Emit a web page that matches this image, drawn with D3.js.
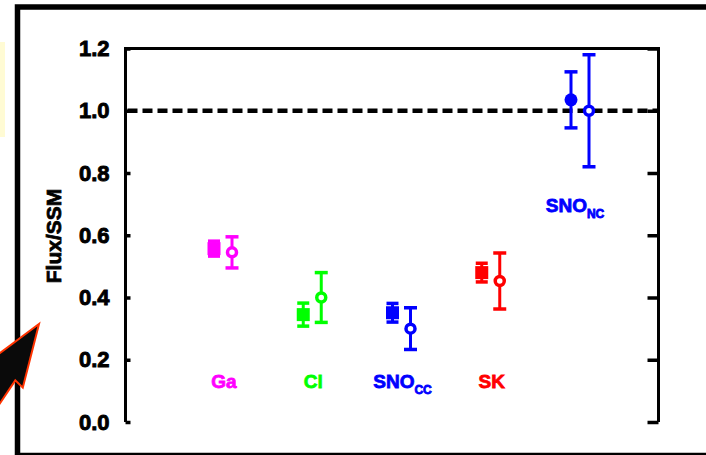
<!DOCTYPE html>
<html>
<head>
<meta charset="utf-8">
<script src="https://cdn.jsdelivr.net/npm/d3@7"></script>
<style>
  html, body { margin: 0; padding: 0; background: #fff; }
  svg { display: block; }
  text { font-family: "Liberation Sans", Arial, sans-serif; font-weight: bold; }
</style>
</head>
<body>
<svg id="chart" width="706" height="455"></svg>
<script>
// Solar neutrino experiments: measured flux and prediction, relative to the SSM
const categories = ["Ga", "Cl", "SNO_CC", "SK", "SNO_NC"];
const labelMain = ["Ga", "Cl", "SNO", "SK", "SNO"];
const labelSub = ["", "", "CC", "", "NC"];
const colors = ["#ff00ff", "#00ff00", "#0000ff", "#ff0000", "#0000ff"];

// filled markers
const filledValues = [0.557, 0.345, 0.351, 0.480, 1.035];
const filledErrors = [0.024, 0.037, 0.030, 0.030, 0.090];
const filledShapes = ["square", "square", "square", "square", "circle"];

// open markers
const openValues = [0.545, 0.400, 0.300, 0.453, 1.000];
const openErrors = [0.050, 0.080, 0.067, 0.090, 0.180];

const yTicks = [0.0, 0.2, 0.4, 0.6, 0.8, 1.0, 1.2];
const referenceLevel = 1.0;

const svg = d3.select("#chart");

// page decoration: outer frame, side note strip, pointer arrow
svg.append("rect")
  .attr("x", 0).attr("y", 42).attr("width", 5).attr("height", 95)
  .attr("fill", "#fffbd4");
svg.append("rect")
  .attr("x", 17.5).attr("y", 7).attr("width", 720).attr("height", 448.5)
  .attr("fill", "none").attr("stroke", "#000").attr("stroke-width", 5.5);

const plotLeft = 125.5, plotRight = 658.5, plotTop = 48.5, plotBottom = 422;

const y = d3.scaleLinear().domain([0, 1.2]).range([plotBottom, plotTop]);
const x = d3.scalePoint().domain(categories).range([223, 580]);
const offset = 9;

// plot frame (left, top, right)
svg.append("path")
  .attr("d", `M${plotLeft},${plotBottom}V${plotTop}H${plotRight}V${plotBottom}`)
  .attr("fill", "none").attr("stroke", "#000").attr("stroke-width", 3);

// left axis: inward ticks and labels
const leftAxis = d3.axisLeft(y).tickValues(yTicks).tickFormat(d3.format(".1f"))
  .tickSizeInner(-5).tickSizeOuter(0).tickPadding(16);
const gl = svg.append("g").attr("transform", `translate(${plotLeft},0)`).call(leftAxis);
gl.select(".domain").remove();
gl.selectAll(".tick line").attr("stroke", "#000").attr("stroke-width", 3.5);
gl.selectAll(".tick text")
  .attr("font-size", 22).attr("font-family", "Liberation Sans, Arial, sans-serif")
  .attr("font-weight", "bold").attr("fill", "#000")
  .attr("stroke", "#000").attr("stroke-width", 0.9);

// right axis: inward ticks
const rightAxis = d3.axisRight(y).tickValues(yTicks).tickFormat("")
  .tickSizeInner(-11).tickSizeOuter(0);
const gr = svg.append("g").attr("transform", `translate(${plotRight},0)`).call(rightAxis);
gr.select(".domain").remove();
gr.selectAll(".tick line").attr("stroke", "#000").attr("stroke-width", 3.5);

// reference line at the SSM prediction
svg.append("line")
  .attr("x1", plotLeft + 2).attr("x2", plotRight)
  .attr("y1", y(referenceLevel)).attr("y2", y(referenceLevel))
  .attr("stroke", "#000").attr("stroke-width", 4.5).attr("stroke-dasharray", "10,5");

// axis title
svg.append("text")
  .attr("transform", `translate(61,236) rotate(-90)`)
  .attr("text-anchor", "middle")
  .attr("font-size", 21)
  .attr("fill", "#000").attr("stroke", "#000").attr("stroke-width", 0.8)
  .text("Flux/SSM");

function errorBar(g, cx, v, e, color, capW) {
  g.append("line")
    .attr("x1", cx).attr("x2", cx).attr("y1", y(v + e)).attr("y2", y(v - e))
    .attr("stroke", color).attr("stroke-width", 3);
  [v + e, v - e].forEach(w => {
    g.append("line")
      .attr("x1", cx - capW / 2).attr("x2", cx + capW / 2)
      .attr("y1", y(w)).attr("y2", y(w))
      .attr("stroke", color).attr("stroke-width", 3.5);
  });
}

const marks = svg.append("g");
categories.forEach((c, i) => {
  const col = colors[i];
  // filled marker with its error bar
  const fx = x(c) - offset;
  errorBar(marks, fx, filledValues[i], filledErrors[i], col, filledShapes[i] === "circle" ? 13 : 12);
  if (filledShapes[i] === "square") {
    marks.append("rect")
      .attr("x", fx - 6.5).attr("y", y(filledValues[i]) - 6.5)
      .attr("width", 13).attr("height", 13).attr("fill", col);
  } else {
    marks.append("circle")
      .attr("cx", fx).attr("cy", y(filledValues[i])).attr("r", 6.5).attr("fill", col);
  }
  // open marker with its error bar
  const ox = x(c) + offset;
  errorBar(marks, ox, openValues[i], openErrors[i], col, 13);
  marks.append("circle")
    .attr("cx", ox).attr("cy", y(openValues[i])).attr("r", 4.5)
    .attr("fill", "#fff").attr("stroke", col).attr("stroke-width", 3.5);
});

// experiment labels
const labelLevel = [0.11, 0.11, 0.11, 0.11, 0.675];
categories.forEach((c, i) => {
  const t = svg.append("text")
    .attr("x", x(c) + (i === 4 ? -5 : 1))
    .attr("y", y(labelLevel[i]))
    .attr("text-anchor", "middle")
    .attr("font-size", 19)
    .attr("fill", colors[i])
    .attr("stroke", colors[i]).attr("stroke-width", 0.8);
  t.append("tspan").text(labelMain[i]);
  if (labelSub[i]) {
    t.append("tspan").attr("font-size", 12).attr("dy", 6).text(labelSub[i]);
  }
});

// pointer arrow in the lower left corner
const arrowPts = [[39, 324], [22.8, 387.7], [15.3, 380.4], [-62.5, 496.7],
                  [-81.9, 483.7], [-4.1, 367.4], [-13.8, 363.3]];
svg.append("path")
  .attr("d", d3.line()(arrowPts) + "Z")
  .attr("fill", "#0a0a0a").attr("stroke", "#ff3300").attr("stroke-width", 2)
  .attr("stroke-linejoin", "miter");
</script>
</body>
</html>
